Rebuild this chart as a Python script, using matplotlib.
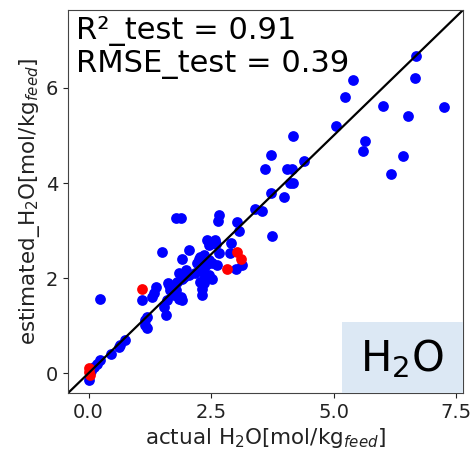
import matplotlib.pyplot as plt
from matplotlib.patches import Rectangle

# blue = test points, red = highlighted points
blue_x = [6.69, 6.66, 5.39, 5.24, 6.00, 7.26, 6.51, 5.04, 5.65, 5.60, 6.42, 6.17,
          4.18, 4.40, 3.73, 3.60, 4.05, 4.15, 4.11, 4.18, 3.73, 3.98, 3.40, 3.54, 3.74,
          1.78, 1.88, 2.67, 2.64, 3.03, 3.06, 2.42, 2.58, 2.45, 2.59, 2.91, 1.50, 2.05,
          1.90, 2.67, 2.89, 2.25, 2.35, 2.45, 2.52, 2.39, 2.62, 3.13, 3.01, 1.98, 2.05,
          1.95, 2.18, 2.28, 2.45, 2.52, 1.84, 1.91, 1.81, 2.28, 2.35, 2.32, 2.32, 1.64,
          1.37, 1.30, 1.78, 1.88, 2.28, 2.21, 2.35, 2.35, 2.35,
          0.23, 1.09, 1.33, 1.63, 1.67, 1.74, 1.60, 1.84, 1.90, 1.53, 1.57, 1.19, 1.16,
          1.19, 1.16, 0.75, 0.65, 0.62, 0.45, 0.24, 0.18, 0.11, 0.01, 0.05]
blue_y = [6.68, 6.20, 6.17, 5.80, 5.63, 5.60, 5.42, 5.19, 4.89, 4.67, 4.56, 4.18,
          4.98, 4.46, 4.59, 4.29, 4.29, 4.29, 4.01, 4.01, 3.80, 3.71, 3.45, 3.41, 2.88,
          3.27, 3.27, 3.33, 3.21, 3.19, 3.00, 2.81, 2.81, 2.69, 2.72, 2.73, 2.55, 2.59,
          2.41, 2.52, 2.52, 2.41, 2.48, 2.38, 2.31, 2.27, 2.27, 2.27, 2.19, 2.17, 2.06,
          2.03, 2.10, 2.17, 2.06, 1.99, 2.10, 1.99, 1.92, 1.92, 1.99, 1.78, 1.64, 1.85,
          1.82, 1.61, 1.75, 1.61, 2.45, 2.31, 2.24, 2.10, 1.89,
          1.57, 1.54, 1.68, 1.89, 1.75, 1.64, 1.54, 1.57, 1.54, 1.40, 1.22, 1.19, 1.12,
          0.94, 1.01, 0.69, 0.59, 0.55, 0.41, 0.27, 0.20, 0.13, -0.15, 0.05]
red_x = [0.0, 0.0, 0.02, 1.10, 2.83, 3.03, 3.10]
red_y = [0.11, 0.02, -0.04, 1.77, 2.20, 2.55, 2.40]

r2 = 0.91
rmse = 0.39
lim = [-0.42, 7.64]

fig = plt.figure(figsize=(4.72, 4.55), dpi=100)
ax = fig.add_axes([0.144, 0.136, 0.837, 0.842])

ax.scatter(blue_x, blue_y, s=60, c='blue', linewidths=0)
ax.scatter(red_x, red_y, s=60, c='red', linewidths=0)
ax.plot(lim, lim, color='black', lw=1.6)

ax.set_xlim(lim)
ax.set_ylim(lim)
ax.set_xticks([0.0, 2.5, 5.0, 7.5])
ax.set_yticks([0, 2, 4, 6])
ax.tick_params(labelsize=14, colors='#222222')
for s in ax.spines.values():
    s.set_color('#444444')

ax.set_xlabel('actual H$_2$O[mol/kg$_{feed}$]', fontsize=15.5, color='#222222', labelpad=3)
ax.set_ylabel('estimated_H$_2$O[mol/kg$_{feed}$]', fontsize=15.5, color='#222222', labelpad=3)

ax.text(0.02, 0.985, 'R²_test = %.2f\nRMSE_test = %.2f' % (r2, rmse),
        transform=ax.transAxes, fontsize=22, va='top', ha='left', linespacing=1.12)

ax.add_patch(Rectangle((0.694, 0.0), 0.306, 0.185, transform=ax.transAxes,
                       facecolor='#dce8f4', edgecolor='none', zorder=3))
ax.text(0.845, 0.09, 'H$_2$O', transform=ax.transAxes, fontsize=30,
        ha='center', va='center', zorder=4)

fig.savefig('out.png', dpi=100)
